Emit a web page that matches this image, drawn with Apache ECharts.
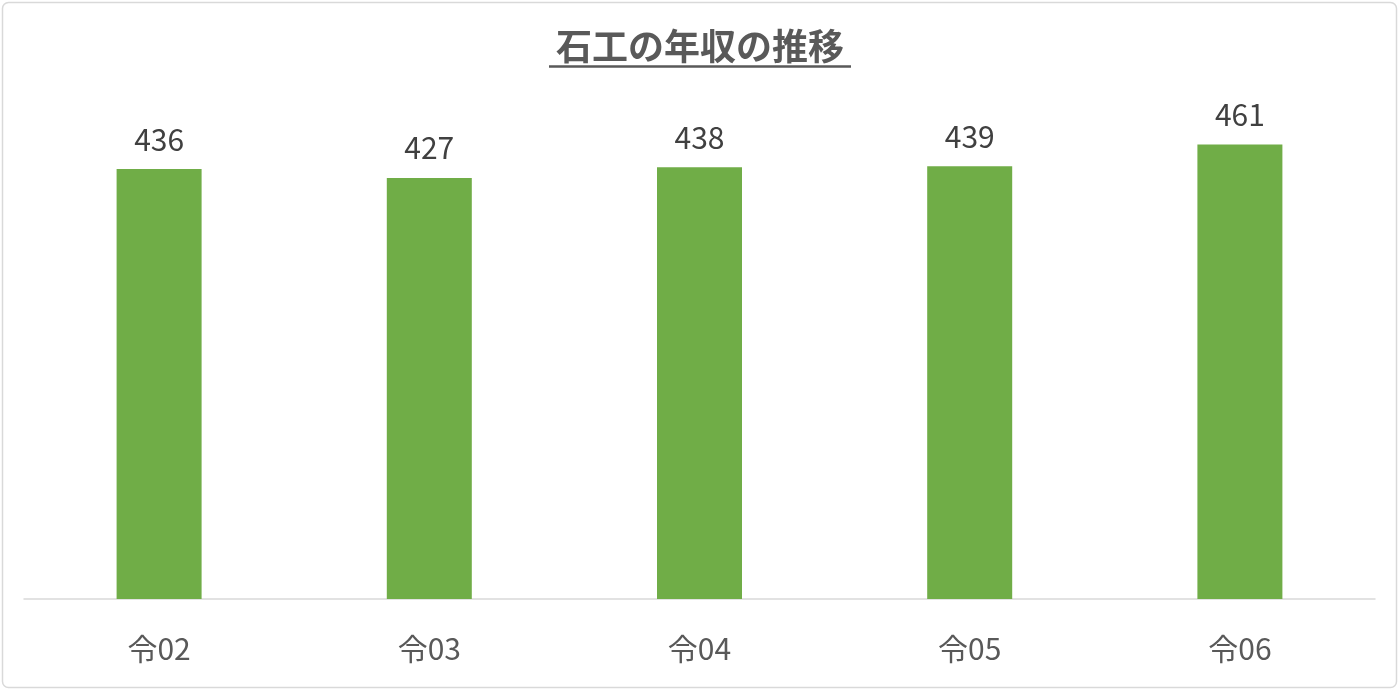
<!DOCTYPE html>
<html><head><meta charset="utf-8">
<script src="https://cdn.jsdelivr.net/npm/echarts@6/dist/echarts.min.js"></script>
<style>html,body{margin:0;padding:0;background:#fff}#c{width:1400px;height:691px}</style>
</head><body><div id="c"></div>
<script>
const titleText = '石工の年収の推移';
const categories = ['令02','令03','令04','令05','令06'];
const values = [436, 427, 438, 439, 461];

const chart = echarts.init(document.getElementById('c'));
const font = '"Noto Sans CJK JP", "Noto Sans", sans-serif';
chart.setOption({
  backgroundColor: '#fff',
  animation: false,
  title: {
    text: titleText, left: 'center', top: 23,
    textStyle: {fontFamily: font, fontSize: 36, fontWeight: 'bold', color: '#595959'}
  },
  graphic: [
    {type: 'rect', shape: {x: 2.5, y: 2.5, width: 1394, height: 685, r: 6},
     style: {fill: 'none', stroke: '#d9d9d9', lineWidth: 1.5}, silent: true},
    {type: 'line', shape: {x1: 549, y1: 66.5, x2: 851, y2: 66.5},
     style: {stroke: '#595959', lineWidth: 2.5}, silent: true}
  ],
  grid: {left: 24, right: 25, top: 106, bottom: 92, containLabel: false},
  xAxis: {
    type: 'category', data: categories,
    axisLine: {lineStyle: {color: '#d9d9d9', width: 1.5}},
    axisTick: {show: false},
    axisLabel: {fontFamily: font, fontSize: 30, color: '#595959', margin: 35}
  },
  yAxis: {type: 'value', min: 0, max: 500, show: false, splitLine: {show: false}},
  series: [{
    type: 'bar', data: values, barWidth: 85,
    itemStyle: {color: '#70AD47'},
    label: {show: true, position: 'top', distance: 15, fontFamily: font, fontSize: 30, color: '#404040'}
  }]
});
</script></body></html>
